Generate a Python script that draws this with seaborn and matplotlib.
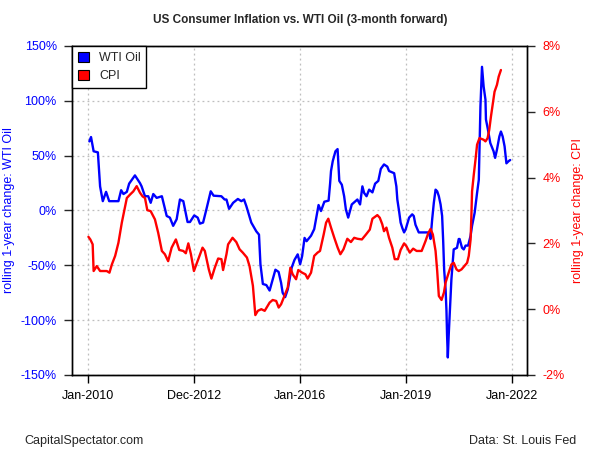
import pandas as pd
import matplotlib
matplotlib.use('Agg')
import matplotlib.pyplot as plt
from matplotlib.patches import Patch
from matplotlib.ticker import FuncFormatter
import seaborn as sns


# WTI oil, rolling 1-year change (%)
oil_dates = [
    '2010-01-11', '2010-01-28', '2010-02-24', '2010-04-09', '2010-05-02', '2010-05-30',
    '2010-07-03', '2010-08-04', '2010-11-08', '2010-12-06', '2010-12-30', '2011-02-03',
    '2011-02-27', '2011-04-28', '2011-06-19', '2011-07-06', '2011-08-10', '2011-09-13',
    '2011-10-08', '2011-11-04', '2011-12-09', '2012-02-01', '2012-03-22', '2012-04-24',
    '2012-05-28', '2012-07-03', '2012-08-06', '2012-09-10', '2012-10-24', '2012-11-18',
    '2013-01-01', '2013-02-06', '2013-03-01', '2013-04-03', '2013-05-07', '2013-06-21',
    '2013-07-21', '2013-10-09', '2013-11-12', '2013-12-01', '2013-12-28', '2014-02-08',
    '2014-03-29', '2014-05-04', '2014-06-01', '2014-06-25', '2014-07-10', '2014-08-15',
    '2014-10-06', '2014-11-03', '2014-11-18', '2014-12-13', '2015-01-18', '2015-02-21',
    '2015-03-25', '2015-04-22', '2015-05-25', '2015-06-20', '2015-07-06', '2015-08-01',
    '2015-08-28', '2015-09-15', '2015-10-08', '2015-11-06', '2015-12-09', '2016-01-03',
    '2016-01-24', '2016-02-18', '2016-03-10', '2016-04-25', '2016-05-28', '2016-07-12',
    '2016-08-06', '2016-09-10', '2016-10-24', '2016-11-09', '2016-11-18', '2016-12-06',
    '2017-01-03', '2017-01-25', '2017-02-12', '2017-03-10', '2017-04-03', '2017-04-21',
    '2017-05-15', '2017-06-02', '2017-06-21', '2017-08-18', '2017-09-15', '2017-10-09',
    '2017-10-27', '2017-11-21', '2017-12-18', '2018-01-21', '2018-02-18', '2018-03-23',
    '2018-04-18', '2018-05-21', '2018-06-24', '2018-07-12', '2018-09-03', '2018-09-26',
    '2018-10-06', '2018-10-24', '2018-11-09', '2018-11-27', '2018-12-15', '2019-01-01',
    '2019-02-05', '2019-03-09', '2019-03-25', '2019-04-12', '2019-05-16', '2019-08-28',
    '2019-09-15', '2019-10-02', '2019-10-19', '2019-11-06', '2019-11-23', '2019-12-10',
    '2019-12-28', '2020-01-13', '2020-01-24', '2020-02-03', '2020-02-18', '2020-02-27',
    '2020-03-04', '2020-03-12', '2020-03-21', '2020-04-02', '2020-04-18', '2020-05-12',
    '2020-06-15', '2020-07-03', '2020-07-12', '2020-08-06', '2020-08-24', '2020-09-12',
    '2020-10-08', '2020-11-03', '2020-11-18', '2020-12-15', '2021-01-09', '2021-01-27',
    '2021-02-13', '2021-03-01', '2021-03-18', '2021-04-06', '2021-04-11', '2021-05-01',
    '2021-05-26', '2021-06-29', '2021-07-15', '2021-08-03', '2021-08-28', '2021-09-13',
    '2021-10-01', '2021-10-21', '2021-11-09', '2021-12-02', '2021-12-18',
]
oil_values = [
    63, 67, 54, 53, 22, 8.5,
    17, 8.5, 8.5, 18.5, 15, 17,
    24.5, 32, 25, 22, 13, 13,
    7, 15, 11.5, 13, -5, -6.5,
    -14, -8, 10, 8.5, -10.5, -10.5,
    -4.5, -6.5, -12, -11, 1, 17.5,
    13.5, 13, 10, 10, 1.5, 7,
    10.5, 8.5, 10, 4, -0.5, -11,
    -19, -22, -49, -67, -68, -73,
    -63, -54, -56, -66, -75, -79,
    -72, -63, -52, -45, -40, -49,
    -41.5, -25, -28, -23, -17, 5,
    -0.5, 8, 9, 25, 36, 45,
    54, 56, 27, 23.5, 13, 1,
    -6.5, -0.5, 5.5, 10, 5.5, 22,
    16, 13, 19, 16.5, 24.5, 27,
    38, 42, 40, 36, 34, 22,
    10, -0.5, -11, -16, -20, -17,
    -6.5, -3.5, -5, -13, -20, -20,
    -26, -8, 7, 19, 17.5, 13,
    5.5, -5, -28, -54, -72, -91.5,
    -113, -134, -114, -93, -63, -35.5,
    -34, -26, -26, -34, -35.5, -32,
    -32, -23, -14, -2, 16, 28,
    95, 131, 113, 101, 83, 74,
    61.5, 54, 48, 55.5, 67.5, 72,
    67.5, 58.5, 43, 45, 46,
]

# CPI, rolling 1-year change (%)
cpi_dates = [
    '2010-01-01', '2010-01-21', '2010-02-14', '2010-02-24', '2010-03-29', '2010-05-02',
    '2010-07-10', '2010-08-07', '2010-09-01', '2010-10-05', '2010-11-08', '2010-12-13',
    '2011-02-03', '2011-03-07', '2011-04-11', '2011-05-16', '2011-06-19', '2011-07-16',
    '2011-08-10', '2011-09-03', '2011-10-08', '2011-11-21', '2011-12-25', '2012-02-01',
    '2012-03-03', '2012-04-06', '2012-05-12', '2012-06-25', '2012-07-30', '2012-09-10',
    '2012-10-06', '2012-11-01', '2012-11-28', '2012-12-29', '2013-02-12', '2013-03-28',
    '2013-04-21', '2013-06-01', '2013-06-28', '2013-08-02', '2013-09-06', '2013-10-10',
    '2013-10-27', '2013-12-01', '2013-12-18', '2014-02-02', '2014-03-13', '2014-04-16',
    '2014-05-19', '2014-07-01', '2014-07-28', '2014-09-01', '2014-09-26', '2014-10-22',
    '2014-11-27', '2015-01-01', '2015-02-21', '2015-03-25', '2015-04-30', '2015-05-26',
    '2015-06-20', '2015-07-24', '2015-08-28', '2015-09-24', '2015-10-18', '2015-11-22',
    '2015-12-15', '2016-01-24', '2016-02-27', '2016-03-21', '2016-04-25', '2016-05-28',
    '2016-07-02', '2016-07-27', '2016-09-03', '2016-09-28', '2016-10-21', '2016-11-18',
    '2016-12-22', '2017-01-26', '2017-02-23', '2017-03-27', '2017-05-06', '2017-06-12',
    '2017-07-16', '2017-08-19', '2017-10-04', '2017-11-15', '2017-12-25', '2018-01-21',
    '2018-03-13', '2018-04-07', '2018-05-03', '2018-05-21', '2018-06-15', '2018-07-12',
    '2018-08-15', '2018-09-09', '2018-10-12', '2018-11-09', '2018-12-15', '2019-01-07',
    '2019-02-12', '2019-03-19', '2019-04-24', '2019-06-15', '2019-07-25', '2019-08-21',
    '2019-09-15', '2019-10-09', '2019-11-06', '2019-11-23', '2019-12-10', '2020-01-07',
    '2020-02-01', '2020-02-18', '2020-03-21', '2020-04-18', '2020-05-12', '2020-06-10',
    '2020-07-03', '2020-08-01', '2020-08-24', '2020-09-28', '2020-10-15', '2020-11-03',
    '2020-11-12', '2020-11-18', '2020-12-06', '2020-12-24', '2021-01-09', '2021-02-03',
    '2021-03-18', '2021-04-06', '2021-04-28', '2021-05-15', '2021-06-02', '2021-06-19',
    '2021-07-09', '2021-08-03', '2021-08-21', '2021-09-13',
]
cpi_values = [
    2.2, 2.12, 1.97, 1.16, 1.31, 1.16,
    1.16, 1.11, 1.36, 1.62, 2.02, 2.63,
    3.38, 3.48, 3.58, 3.74, 3.54, 3.43,
    3.38, 3.01, 2.98, 2.73, 2.32, 1.77,
    1.67, 1.46, 1.87, 2.12, 1.8, 1.77,
    1.7, 2.0, 1.67, 1.16, 1.52, 1.87,
    1.77, 1.21, 0.93, 1.26, 1.54, 1.52,
    1.19, 1.67, 1.97, 2.17, 2.04, 1.82,
    1.72, 1.57, 1.31, 0.71, -0.18, -0.05,
    0.0, -0.05, 0.2, 0.28, 0.25, 0.05,
    0.15, 0.4, 0.66, 1.26, 1.06, 0.91,
    1.19, 1.11, 1.06, 0.93, 1.11, 1.62,
    1.72, 1.77, 2.27, 2.63, 2.75, 2.48,
    2.17, 1.87, 1.67, 1.82, 2.14, 2.04,
    2.17, 2.14, 2.12, 2.27, 2.42, 2.75,
    2.86, 2.78, 2.58, 2.37, 2.48, 2.17,
    1.87, 1.52, 1.52, 1.8, 2.0, 1.92,
    1.72, 1.84, 1.77, 1.77, 2.07, 2.3,
    2.44, 2.27, 1.77, 1.16, 0.4, 0.28,
    0.51, 0.81, 1.11, 1.36, 1.41, 1.21,
    1.16, 1.21, 1.29, 1.41, 1.62, 2.12,
    2.93, 3.58, 4.09, 4.55, 5.0, 5.2,
    5.15, 5.1, 5.2, 5.45, 5.86, 6.21,
    6.61, 6.82, 7.07, 7.27,
]

tick_dates = ['2010-01-01', '2012-12-31', '2016-01-01', '2019-01-01', '2022-01-01']
tick_labels = ['Jan-2010', 'Dec-2012', 'Jan-2016', 'Jan-2019', 'Jan-2022']
oil_ticks = [-150, -100, -50, 0, 50, 100, 150]
cpi_ticks = [-2, 0, 2, 4, 6, 8]

sns.set_style('white')
plt.rcParams['font.family'] = ['Liberation Sans', 'DejaVu Sans']

oil_df = pd.DataFrame({'date': pd.to_datetime(oil_dates), 'value': oil_values})
cpi_df = pd.DataFrame({'date': pd.to_datetime(cpi_dates), 'value': cpi_values})

fig = plt.figure(figsize=(6, 4.5), dpi=100)
ax = fig.add_axes([0.12, 0.1667, 0.7583, 0.7311])
ax2 = ax.twinx()

# grid: vertical at date ticks, horizontal at left-axis ticks
for d in tick_dates:
    ax.axvline(pd.Timestamp(d), color='#bebebe', linestyle=(0, (1.5, 2.5)), lw=0.9, zorder=0)
for t in oil_ticks:
    ax.axhline(t, color='#bebebe', linestyle=(0, (1.5, 2.5)), lw=0.9, zorder=0)

sns.lineplot(data=oil_df, x='date', y='value', ax=ax, color='blue', lw=1.7)
sns.lineplot(data=cpi_df, x='date', y='value', ax=ax2, color='red', lw=1.7)

ax.set_xlim(pd.Timestamp('2009-07-15'), pd.Timestamp('2022-06-10'))
ax.set_ylim(-150, 150)
ax2.set_ylim(-2, 8)

ax.set_xticks(pd.to_datetime(tick_dates))
ax.set_xticklabels(tick_labels, fontsize=9, color='black')
ax.set_yticks(oil_ticks)
ax.yaxis.set_major_formatter(FuncFormatter(lambda v, p: f'{v:.0f}%'))
ax2.set_yticks(cpi_ticks)
ax2.yaxis.set_major_formatter(FuncFormatter(lambda v, p: f'{v:.0f}%'))

ax.tick_params(axis='x', length=6, width=1, pad=5, labelsize=9, colors='black', direction='out', bottom=True)
ax.tick_params(axis='y', length=6, width=1, pad=5, labelsize=9, labelcolor='blue', direction='out', left=True)
ax2.tick_params(axis='y', length=6, width=1, pad=5, labelsize=9, labelcolor='red', direction='out', right=True)

ax.set_xlabel('')
ax.set_ylabel('rolling 1-year change: WTI Oil', color='blue', fontsize=9)
ax2.set_ylabel('rolling 1-year change: CPI', color='red', fontsize=9)
ax.yaxis.set_label_coords(-0.125, 0.5)
ax2.yaxis.set_label_coords(1.098, 0.5)

for a in (ax, ax2):
    for s in a.spines.values():
        s.set_visible(True)
        s.set_color('black')
        s.set_linewidth(1)

handles = [Patch(facecolor='blue', edgecolor='black', lw=0.8, label='WTI Oil'),
           Patch(facecolor='red', edgecolor='black', lw=0.8, label='CPI')]
leg = ax2.legend(handles=handles, loc='upper left', bbox_to_anchor=(0, 1), borderaxespad=0,
                 fancybox=False, framealpha=1, edgecolor='black', fontsize=9,
                 handlelength=0.9, handleheight=0.9, handletextpad=0.8,
                 labelspacing=0.45, borderpad=0.45)
leg.get_frame().set_linewidth(1)

fig.text(0.5, 0.955, 'US Consumer Inflation vs. WTI Oil (3-month forward)',
         ha='center', va='center', fontsize=8.5, fontweight='bold')
fig.text(0.04, 0.02, 'CapitalSpectator.com', ha='left', va='center', fontsize=9)
fig.text(0.96, 0.02, 'Data: St. Louis Fed', ha='right', va='center', fontsize=9)

fig.savefig('out.png', dpi=100)
